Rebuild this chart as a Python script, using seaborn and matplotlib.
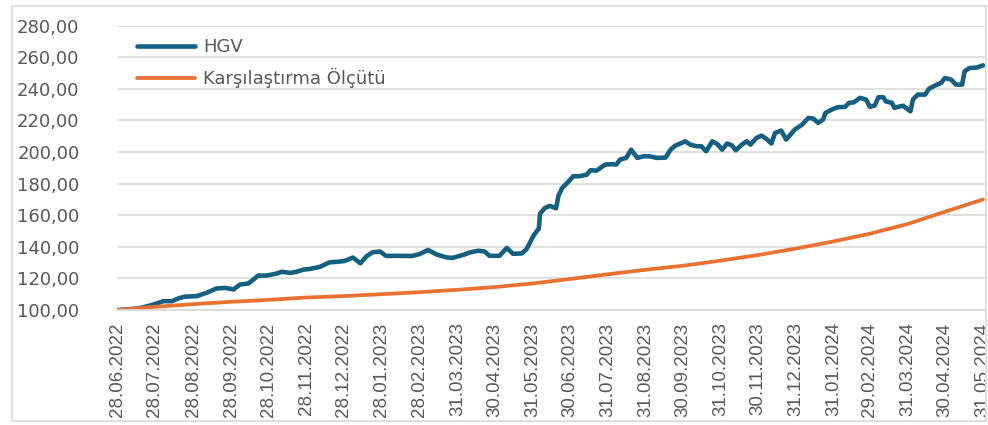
import matplotlib
matplotlib.use("Agg")
import matplotlib.pyplot as plt
import matplotlib.ticker as ticker
from matplotlib.patches import Rectangle
from matplotlib.transforms import Bbox, TransformedBbox
import seaborn as sns
import pandas as pd

# Data
start_date = "2022-06-28"

# HGV: days since 28.06.2022 and index value
hgv_days = [0, 10, 19, 29, 37, 44, 49, 54, 64, 72,
            80, 87, 94, 99, 106, 110, 114, 121, 129, 133,
            140, 145, 151, 156, 164, 172, 178, 184, 191, 197,
            202, 207, 213, 218, 226, 239, 245, 252, 259, 267,
            272, 281, 286, 293, 298, 302, 310, 316, 321, 328,
            332, 335, 338, 342, 343, 347, 351, 356, 358, 361,
            365, 370, 375, 381, 384, 389, 396, 401, 405, 408,
            413, 417, 422, 427, 432, 438, 445, 449, 453, 457,
            461, 465, 470, 474, 478, 483, 487, 491, 495, 499,
            502, 507, 511, 514, 519, 523, 527, 531, 534, 539,
            543, 550, 556, 561, 565, 569, 573, 575, 580, 585,
            591, 594, 598, 603, 608, 611, 615, 618, 622, 624,
            629, 631, 635, 638, 644, 646, 650, 656, 659, 664,
            669, 672, 677, 681, 686, 688, 692, 698, 703]
hgv_values = [100.0, 100.5, 101.4, 103.5, 105.6, 105.6, 107.3, 108.4, 108.8, 110.9,
              113.6, 114.0, 113.0, 116.1, 116.8, 119.3, 121.8, 121.8, 123.1, 124.2,
              123.5, 124.2, 125.6, 126.0, 127.3, 130.2, 130.5, 131.0, 133.2, 129.6,
              134.0, 136.6, 137.0, 134.2, 134.3, 134.2, 135.4, 138.0, 135.1, 133.3,
              133.0, 135.0, 136.5, 137.5, 137.0, 134.3, 134.3, 139.3, 135.6, 135.8,
              138.5, 143.0, 147.5, 151.5, 161.0, 164.6, 165.9, 164.4, 172.4, 177.3,
              180.4, 184.7, 184.7, 185.7, 188.5, 188.3, 192.1, 192.3, 192.1, 195.2,
              196.3, 201.5, 196.3, 197.3, 197.3, 196.3, 196.5, 201.5, 204.1, 205.4,
              206.8, 204.7, 203.7, 203.7, 200.5, 206.8, 205.1, 201.5, 205.4, 204.2,
              201.1, 204.7, 206.8, 204.7, 209.0, 210.4, 208.3, 205.4, 212.1, 213.6,
              207.9, 214.2, 217.4, 221.6, 221.2, 218.5, 220.6, 224.8, 226.9, 228.4,
              228.6, 231.1, 231.5, 234.3, 233.2, 228.6, 229.5, 234.7, 234.7, 232.1,
              231.1, 228.0, 228.8, 229.3, 225.8, 233.2, 236.4, 236.4, 240.0, 242.1,
              243.8, 246.9, 245.9, 242.7, 242.7, 251.1, 253.2, 253.5, 254.9]

# Benchmark (Karşılaştırma Ölçütü) at the monthly label dates
tick_dates = ["28.06.2022", "28.07.2022", "28.08.2022", "28.09.2022", "28.10.2022",
              "28.11.2022", "28.12.2022", "28.01.2023", "28.02.2023", "31.03.2023",
              "30.04.2023", "31.05.2023", "30.06.2023", "31.07.2023", "31.08.2023",
              "30.09.2023", "31.10.2023", "30.11.2023", "31.12.2023", "31.01.2024",
              "29.02.2024", "31.03.2024", "30.04.2024", "31.05.2024"]
bench_values = [100.0, 102.0, 103.7, 105.2, 106.4, 107.9, 108.8, 110.0, 111.3, 112.8,
                114.5, 116.8, 119.6, 122.6, 125.5, 128.0, 131.3, 134.8, 138.9, 143.5,
                148.3, 154.5, 162.2, 170.0]

series_names = ["HGV", "Karşılaştırma Ölçütü"]
colors = ["#156082", "#E97132"]

# Frames
hgv = pd.DataFrame({"Tarih": pd.to_datetime(start_date) + pd.to_timedelta(hgv_days, unit="D"),
                    "Deger": hgv_values})
ticks = pd.to_datetime(tick_dates, format="%d.%m.%Y")
bench = pd.DataFrame({"Tarih": ticks, "Deger": bench_values})

sns.set_theme(style="white")
plt.rcParams['font.family'] = ['DejaVu Sans']

fig = plt.figure(figsize=(9.88, 4.25), dpi=100)
ax = fig.add_axes([117 / 988, 1 - 310 / 425, (985 - 117) / 988, (310 - 25.7) / 425])

sns.lineplot(data=hgv, x="Tarih", y="Deger", color=colors[0], linewidth=3.3,
             label=series_names[0], estimator=None, ax=ax,
             solid_capstyle="round", solid_joinstyle="round")
sns.lineplot(data=bench, x="Tarih", y="Deger", color=colors[1], linewidth=2.7,
             label=series_names[1], estimator=None, ax=ax,
             solid_capstyle="round", solid_joinstyle="round")

ax.set_xlim(ticks[0] - pd.Timedelta(days=0.8), ticks[-1] + pd.Timedelta(days=1.6))
ax.set_ylim(100, 280)
ax.yaxis.set_major_locator(ticker.MultipleLocator(20))
ax.yaxis.set_major_formatter(ticker.FuncFormatter(lambda v, p: f"{v:.2f}".replace(".", ",")))
ax.set_xticks(ticks)
ax.set_xticklabels(tick_dates, rotation=90,
                   family=['Liberation Sans Narrow', 'Liberation Sans'], fontsize=13.5,
                   color="#595959")
ax.tick_params(axis="x", length=0, pad=9)
ax.tick_params(axis="y", length=0, pad=27, labelsize=13, labelcolor="#595959")
ax.set_xlabel("")
ax.set_ylabel("")

ax.yaxis.grid(True, color="#d9d9d9", linewidth=1.1)
ax.xaxis.grid(False)
ax.set_axisbelow(True)
for s in ["top", "left", "right"]:
    ax.spines[s].set_visible(False)
ax.spines["bottom"].set_color("#d9d9d9")
ax.spines["bottom"].set_linewidth(1.2)

leg = ax.legend(loc="upper left", bbox_to_anchor=(0.023, 0.957), frameon=False,
                fontsize=13, handlelength=3.2, handletextpad=0.45, labelspacing=0.68,
                borderpad=0, borderaxespad=0)
for t in leg.get_texts():
    t.set_color("#595959")
for h in leg.get_lines():
    h.set_solid_capstyle("round")

# last date label is cut by the chart border, as in the original
clip = TransformedBbox(Bbox([[0, 0], [985 / 988, 1]]), fig.transFigure)
last = ax.get_xticklabels()[-1]
last.set_clip_on(True)
last.set_clip_box(clip)

# outer chart frame
fig.add_artist(Rectangle((11.5 / 988, 1 - 420.5 / 425), (986 - 11.5) / 988, (420.5 - 6) / 425,
                         transform=fig.transFigure, fill=False, edgecolor="#d9d9d9", linewidth=1.2))

fig.savefig("out.png", dpi=100)
